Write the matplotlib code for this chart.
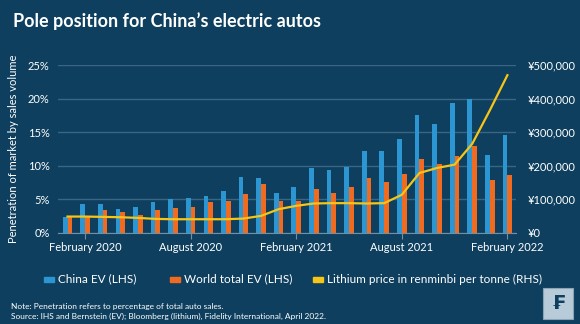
import numpy as np
import matplotlib
matplotlib.use('Agg')
import matplotlib.pyplot as plt
from matplotlib.patches import Rectangle

BG = '#0e3f5e'
BLUE = '#2b96d1'
ORANGE = '#f06a1f'
YELLOW = '#f5c518'
GRID = '#3a6683'
TXT = '#ffffff'

# Monthly, Jan 2020 .. Feb 2022
china_ev = [2.4, 4.3, 4.2, 3.6, 3.9, 4.5, 5.0, 5.15, 5.5, 6.15, 8.3, 8.15, 5.95,
            6.85, 9.7, 9.35, 9.85, 12.2, 12.2, 14.0, 17.6, 16.2, 19.4, 20.0, 11.6, 14.6]
world_ev = [2.3, 2.3, 3.4, 3.1, 2.6, 3.4, 3.65, 3.8, 4.6, 4.75, 5.75, 7.25, 4.75,
            4.75, 6.5, 5.95, 6.75, 8.2, 7.6, 8.8, 11.0, 10.2, 11.4, 12.9, 7.9, 8.6]
lithium = [48000, 48000, 47000, 46000, 44000, 41000, 40000, 40000, 40000, 40000,
           42000, 50000, 70000, 80000, 87000, 88000, 88000, 87000, 88000, 113000,
           178000, 193000, 203000, 265000, 365000, 470000]
tick_pos = [1, 7, 13, 19, 25]
tick_labels = ['February 2020', 'August 2020', 'February 2021', 'August 2021', 'February 2022']

plt.rcParams['font.family'] = ['Lato', 'DejaVu Sans']

fig = plt.figure(figsize=(5.8, 3.24), dpi=100, facecolor=BG)
ax = fig.add_axes([0.1, 0.282, 0.79, 0.517])
ax.set_facecolor(BG)
ax2 = ax.twinx()

x = np.arange(len(china_ev))
w = 0.27
ax.bar(x - w / 2, china_ev, w, color=BLUE, zorder=3)
ax.bar(x + w / 2, world_ev, w, color=ORANGE, zorder=3)
ax2.plot(x, lithium, color=YELLOW, lw=1.6, zorder=4)

ax.set_xlim(-0.54, 25.5)
ax.set_ylim(0, 25)
ax2.set_ylim(0, 500000)
ax.set_yticks(range(0, 26, 5))
ax.set_yticklabels([f'{v}%' for v in range(0, 26, 5)])
ax2.set_yticks(range(0, 500001, 100000))
ax2.set_yticklabels(['¥0'] + [f'¥{v:,}' for v in range(100000, 500001, 100000)])
ax.set_xticks(tick_pos)
ax.set_xticklabels(tick_labels)

ax.grid(axis='y', color=GRID, lw=1, zorder=0)
for a in (ax, ax2):
    for s in a.spines.values():
        s.set_visible(False)
ax.spines['bottom'].set_visible(True)
ax.spines['bottom'].set_color('#6f90a6')
ax.tick_params(axis='y', length=0, colors=TXT, labelsize=8, pad=6)
ax2.tick_params(axis='y', length=0, colors=TXT, labelsize=8, pad=8)
ax.tick_params(axis='x', length=4, color='#6f90a6', colors=TXT, labelsize=8, pad=3)
ax.set_ylabel('Penetration of market by sales volume', color=TXT, fontsize=8, labelpad=6)

fig.text(0.022, 0.935, 'Pole position for China\u2019s electric autos', color=TXT,
         fontsize=13, fontweight='bold', va='center', ha='left')

# legend
leg_y = 1 - 279 / 324
items = [(BLUE, 'China EV (LHS)', 44), (ORANGE, 'World total EV (LHS)', 170),
         (YELLOW, 'Lithium price in renminbi per tonne (RHS)', 313)]
for col, lab, px in items:
    fig.patches.append(Rectangle((px / 580, leg_y - 2.5 / 324), 10 / 580, 5 / 324,
                                 transform=fig.transFigure, color=col))
    fig.text((px + 14) / 580, leg_y, lab, color=TXT, fontsize=8.5, va='center', ha='left')

fig.text(0.019, 1 - 306 / 324, 'Note: Penetration refers to percentage of total auto sales.',
         color=TXT, fontsize=6, va='center')
fig.text(0.019, 1 - 316 / 324,
         'Source: IHS and Bernstein (EV); Bloomberg (lithium), Fidelity International, April 2022.',
         color=TXT, fontsize=6, va='center')

# logo
fig.patches.append(Rectangle((543 / 580, 1 - 319 / 324), 30 / 580, 31 / 324,
                             transform=fig.transFigure, facecolor='#b7cbd9',
                             edgecolor='#8aa3b5', lw=0.8))
fig.text(558 / 580, 1 - 303.5 / 324, '\u20a3', color='#0e3f5e', fontsize=14,
         fontweight='bold', ha='center', va='center', family='DejaVu Sans')

fig.savefig('out.png', dpi=100, facecolor=BG)
